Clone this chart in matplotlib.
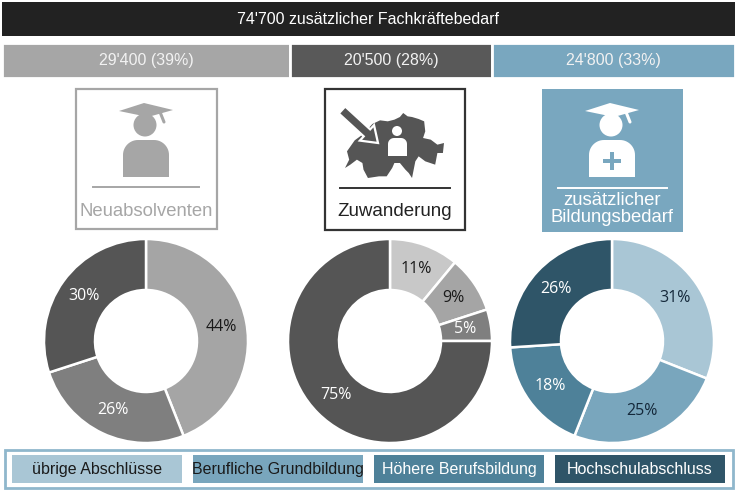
import matplotlib
matplotlib.use("Agg")
import matplotlib.pyplot as plt
import numpy as np
from matplotlib.patches import Rectangle, Circle, Polygon, FancyArrow

# --- data ---
total_label = "74'700 zusätzlicher Fachkräftebedarf"
sources = ["Neuabsolventen", "Zuwanderung", "zusätzlicher\nBildungsbedarf"]
source_values = [29400, 20500, 24800]
source_shares = [39, 28, 33]
categories = ["übrige Abschlüsse", "Berufliche Grundbildung",
              "Höhere Berufsbildung", "Hochschulabschluss"]
neu_pct = [0, 44, 26, 30]
zuw_pct = [11, 9, 5, 75]
bil_pct = [31, 25, 18, 26]

GRAYS = ["#c8c8c8", "#a5a5a5", "#7f7f7f", "#555555"]
BLUES = ["#a9c6d5", "#79a6bd", "#4e8199", "#2f5568"]
TOP_COLORS = ["#a6a6a6", "#595959", "#79a7bf"]

SANS = "Liberation Sans"
PCTFONT = "Open Sans"

W, H = 737, 491
fig = plt.figure(figsize=(W / 100, H / 100), dpi=100)
ax = fig.add_axes([0, 0, 1, 1])
ax.set_xlim(0, W)
ax.set_ylim(H, 0)
ax.axis("off")

# header bars
ax.barh(19, 733, left=2, height=34, color="#222222")
ax.text(W / 2, 19, total_label, color="white", ha="center", va="center",
        fontsize=11.5, family=SANS)

total = sum(source_values)
lefts = 2 + np.cumsum([0] + source_values[:-1]) / total * 733
widths = np.array(source_values) / total * 733
ax.barh(60, widths, left=lefts, height=35, color=TOP_COLORS,
        edgecolor="white", linewidth=2)
for l, w, v, s in zip(lefts, widths, source_values, source_shares):
    txt = f"{v:,}".replace(",", "'") + f" ({s}%)"
    ax.text(l + w / 2, 60, txt, color="#f2f2f2", ha="center", va="center",
            fontsize=11.5, family=SANS)

centers = [146, 395, 612]


def grad_person(cx, color, hole):
    # mortarboard
    ax.add_patch(Polygon([(cx - 27, 111), (cx - 2, 103), (cx + 27, 110), (cx + 2, 117)],
                         closed=True, color=color, lw=0))
    ax.plot([cx + 14, cx + 18], [112, 122], color=color, lw=2.2, solid_capstyle="round")
    # head
    ax.add_patch(Circle((cx - 1, 125), 11.5, color=color, lw=0))
    # body with rounded shoulders
    r = 15
    hw = 23
    t1 = np.linspace(np.pi, np.pi / 2, 15)
    t2 = np.linspace(np.pi / 2, 0, 15)
    left = np.column_stack([cx - hw + r + r * np.cos(t1), 140 + r - r * np.sin(t1)])
    right = np.column_stack([cx + hw - r + r * np.cos(t2), 140 + r - r * np.sin(t2)])
    body = np.vstack([[cx - hw, 177], left, right, [cx + hw, 177]])
    ax.add_patch(Polygon(body, closed=True, color=color, lw=0))
    if hole:
        ax.add_patch(Rectangle((cx - 9, 159), 18, 4, color=hole, lw=0))
        ax.add_patch(Rectangle((cx - 2, 152), 4, 18, color=hole, lw=0))


# left box
cx = centers[0]
ax.add_patch(Rectangle((76, 89), 141, 140, fill=False, ec="#a6a6a6", lw=1.6))
grad_person(cx, "#a6a6a6", None)
ax.plot([93, 199], [187, 187], color="#a6a6a6", lw=1.4)
ax.text(cx, 211, sources[0], color="#a6a6a6", ha="center", va="center",
        fontsize=13.3, family=SANS)

# middle box: map of Switzerland with arrow
cx = centers[1]
ax.add_patch(Rectangle((325, 89), 140, 141, fill=False, ec="#333333", lw=1.6))
lon = np.array([5.96, 6.15, 6.05, 6.4, 6.75, 7.0, 7.2, 7.55, 7.9, 8.2, 8.45, 8.6, 8.8,
                9.0, 9.3, 9.55, 9.6, 9.5, 9.85, 10.15, 10.45, 10.4, 10.15, 10.05, 9.6,
                9.3, 9.15, 9.0, 8.85, 8.7, 8.45, 8.2, 8.1, 7.85, 7.5, 7.0, 6.8, 6.75,
                6.5, 6.2])
lat = np.array([46.15, 46.4, 46.65, 46.98, 47.15, 47.32, 47.47, 47.58, 47.55, 47.6, 47.68,
                47.8, 47.7, 47.68, 47.62, 47.55, 47.25, 47.05, 47.0, 46.85, 46.9, 46.6,
                46.6, 46.25, 46.35, 46.5, 46.35, 45.85, 46.0, 46.1, 46.3, 46.3, 46.15,
                45.9, 45.9, 45.85, 46.1, 46.3, 46.4, 46.25])
mx = 345 + (lon - 5.96) / (10.45 - 5.96) * 99
my = 178 - (lat - 45.85) / (47.8 - 45.85) * 65
ax.add_patch(Polygon(np.column_stack([mx, my]), closed=True, color="#555555", lw=0))
ax.add_patch(FancyArrow(342, 110, 36, 33, width=9.5, head_width=21, head_length=15,
                        length_includes_head=True, fc="#555555", ec="white", lw=1.6))
ax.add_patch(Circle((397, 131), 5, color="white", lw=0))
t1 = np.linspace(np.pi, np.pi / 2, 10)
t2 = np.linspace(np.pi / 2, 0, 10)
pl = np.column_stack([394 + 6 * np.cos(t1), 144 - 6 * np.sin(t1)])
pr = np.column_stack([401 + 6 * np.cos(t2), 144 - 6 * np.sin(t2)])
ax.add_patch(Polygon(np.vstack([[388, 156], pl, pr, [407, 156]]), closed=True,
                     color="white", lw=0))
ax.plot([340, 450], [188, 188], color="#333333", lw=1.4)
ax.text(cx, 212, sources[1], color="#222222", ha="center", va="center",
        fontsize=13.5, family=SANS)

# right box
cx = centers[2]
ax.add_patch(Rectangle((542, 89), 141, 143, color="#79a7bf", lw=0))
grad_person(cx, "white", "#79a7bf")
ax.plot([558, 667], [188, 188], color="white", lw=1.4)
ax.text(cx, 209, sources[2], color="white", ha="center", va="center",
        fontsize=13.3, family=SANS, linespacing=0.95)

# donuts
R = 102
donut_centers = [(146, 341), (390, 341), (612, 341)]
series = [neu_pct, zuw_pct, bil_pct]
palettes = [GRAYS, GRAYS, BLUES]
dark_text = ["#1a1a1a", "#1a1a1a", "white", "white"]
dark_blue_text = ["#14283a", "#14283a", "white", "white"]
for (dx, dy), vals, pal, k in zip(donut_centers, series, palettes, range(3)):
    pax = fig.add_axes([(dx - R) / W, 1 - (dy + R) / H, 2 * R / W, 2 * R / H])
    wedges, _, autotexts = pax.pie(
        vals, colors=pal, startangle=90, counterclock=False,
        wedgeprops=dict(width=0.5, edgecolor="white", linewidth=1.8),
        autopct=lambda p: f"{p:.0f}%" if p > 0.5 else "", pctdistance=0.75,
        textprops=dict(fontsize=11.5, family=PCTFONT))
    tcols = dark_blue_text if k == 2 else dark_text
    for t_, c in zip(autotexts, tcols):
        t_.set_color(c)
    pax.set_xlim(-1, 1)
    pax.set_ylim(-1, 1)

# legend
ax.add_patch(Rectangle((5, 450), 728, 38, fill=False, ec="#8fb7cc", lw=2))
leg_text = ["#1a1a1a", "#1a1a1a", "white", "white"]
for i, (cat, col, tc) in enumerate(zip(categories, BLUES, leg_text)):
    x0 = 12 + i * 181
    ax.add_patch(Rectangle((x0, 455), 170, 28, color=col, lw=0))
    ax.text(x0 + 85, 469.5, cat, color=tc, ha="center", va="center",
            fontsize=11.5, family=SANS)

fig.savefig("out.png", dpi=100)
